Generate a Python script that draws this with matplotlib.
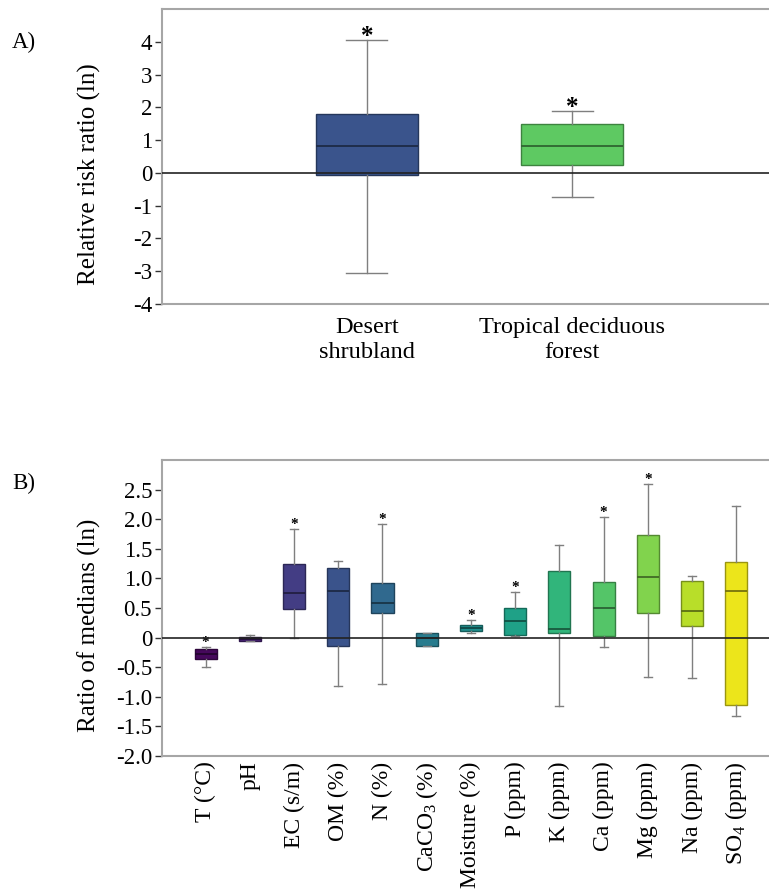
import numpy as np
import matplotlib
matplotlib.use('Agg')
import matplotlib.pyplot as plt
import matplotlib.colors as mcolors

plt.rcParams['font.family'] = ['Liberation Serif', 'DejaVu Serif']
plt.rcParams['mathtext.fontset'] = 'custom'
plt.rcParams['mathtext.rm'] = 'Liberation Serif'
plt.rcParams['mathtext.it'] = 'Liberation Serif:italic'

# Panel A: relative risk ratio (ln) per biome
biomes = ['Desert\nshrubland', 'Tropical deciduous\nforest']
a_whislo = [-3.05, -0.74]
a_q1 = [-0.07, 0.24]
a_med = [0.82, 0.82]
a_q3 = [1.80, 1.48]
a_whishi = [4.04, 1.88]
a_signif = [True, True]
a_yticks = [-4, -3, -2, -1, 0, 1, 2, 3, 4]

# Panel B: ratio of medians (ln) per soil variable
soil_vars = ['T (°C)', 'pH', 'EC (s/m)', 'OM (%)', 'N (%)', 'CaCO$_3$ (%)',
             'Moisture (%)', 'P (ppm)', 'K (ppm)', 'Ca (ppm)', 'Mg (ppm)',
             'Na (ppm)', 'SO$_4$ (ppm)']
b_whislo = [-0.50, -0.05, 0.00, -0.81, -0.78, -0.14, 0.08, 0.03, -1.16, -0.16, -0.67, -0.68, -1.32]
b_q1 = [-0.36, -0.05, 0.48, -0.14, 0.42, -0.14, 0.11, 0.05, 0.07, 0.03, 0.42, 0.19, -1.14]
b_med = [-0.27, -0.03, 0.76, 0.78, 0.59, 0.00, 0.16, 0.28, 0.15, 0.50, 1.03, 0.45, 0.79]
b_q3 = [-0.20, 0.01, 1.24, 1.17, 0.92, 0.08, 0.21, 0.50, 1.13, 0.94, 1.73, 0.96, 1.28]
b_whishi = [-0.16, 0.045, 1.83, 1.30, 1.91, 0.08, 0.29, 0.77, 1.56, 2.03, 2.59, 1.04, 2.22]
b_signif = [True, False, True, False, True, False, True, True, False, True, True, False, False]
b_yticks = [-2.0, -1.5, -1.0, -0.5, 0, 0.5, 1.0, 1.5, 2.0, 2.5]
b_yticklabels = ['-2.0', '-1.5', '-1.0', '-0.5', '0', '0.5', '1.0', '1.5', '2.0', '2.5']


def darker(c, f=0.65):
    r, g, b = mcolors.to_rgb(c)
    return (r * f, g * f, b * f)


def draw_boxes(ax, lo, q1, med, q3, hi, signif, colors, capw, starsize, staroff):
    stats = [dict(whislo=a, q1=b, med=c, q3=d, whishi=e, fliers=[])
             for a, b, c, d, e in zip(lo, q1, med, q3, hi)]
    pos = np.arange(1, len(stats) + 1)
    bp = ax.bxp(stats, positions=pos, widths=0.5, patch_artist=True,
                showfliers=False, capwidths=capw, manage_ticks=False)
    for patch, c in zip(bp['boxes'], colors):
        patch.set_facecolor(c)
        patch.set_edgecolor(darker(c))
        patch.set_linewidth(1.0)
    for line, c in zip(bp['medians'], colors):
        line.set_color(darker(c, 0.5))
        line.set_linewidth(1.3)
    for line in bp['whiskers'] + bp['caps']:
        line.set_color('#7f7f7f')
        line.set_linewidth(1.0)
    for x, top, s in zip(pos, hi, signif):
        if s:
            ax.annotate('*', (x, top), xytext=(0, staroff), textcoords='offset points',
                        ha='center', va='baseline', fontsize=starsize, fontweight='bold')
    ax.axhline(0, color='#222222', lw=1.2, zorder=5)


def style_axes(ax):
    for side in ['left', 'top', 'bottom']:
        ax.spines[side].set_color('#a6a6a6')
        ax.spines[side].set_linewidth(1.5)
    ax.spines['right'].set_visible(False)
    ax.tick_params(axis='y', length=5, width=1, color='#333333', labelsize=16.5, pad=2)
    ax.tick_params(axis='x', length=0)


fig = plt.figure(figsize=(7.69, 8.90), dpi=100)
cmap = plt.get_cmap('viridis')

# ---- Panel A ----
ax1 = fig.add_axes([0.2104, 0.6584, 0.7896, 0.3315])
draw_boxes(ax1, a_whislo, a_q1, a_med, a_q3, a_whishi, a_signif,
           [cmap(0.26), cmap(0.75)], 0.2, 18, -2)
ax1.set_xlim(0, 2.96)
ax1.set_ylim(-4, 5)
ax1.set_yticks(a_yticks)
ax1.set_yticklabels([str(t) for t in a_yticks])
ax1.set_xticks([1, 2])
ax1.set_xticklabels(biomes, fontsize=17.5, linespacing=1.25)
ax1.tick_params(axis='x', pad=9)
ax1.set_ylabel('Relative risk ratio (ln)', fontsize=18)
ax1.yaxis.set_label_coords(-0.1, 0.44)
style_axes(ax1)
fig.text(12 / 769, 1 - 42 / 890, 'A)', fontsize=16.5, va='center')

# ---- Panel B ----
ax2 = fig.add_axes([0.2104, 0.1506, 0.7896, 0.3326])
b_colors = [cmap(v) for v in np.linspace(0.02, 0.97, len(soil_vars))]
draw_boxes(ax2, b_whislo, b_q1, b_med, b_q3, b_whishi, b_signif,
           b_colors, 0.18, 11, 1)
ax2.set_xlim(0.01, 13.74)
ax2.set_ylim(-2.0, 3.0)
ax2.set_yticks(b_yticks)
ax2.set_yticklabels(b_yticklabels)
ax2.set_xticks(np.arange(1, len(soil_vars) + 1))
ax2.set_xticklabels(soil_vars, rotation=90, fontsize=17, va='top', ha='center')
ax2.tick_params(axis='x', pad=4)
ax2.set_ylabel('Ratio of medians (ln)', fontsize=18)
ax2.yaxis.set_label_coords(-0.1, 0.44)
style_axes(ax2)
fig.text(12 / 769, 1 - 483 / 890, 'B)', fontsize=16.5, va='center')

fig.savefig('out.png', dpi=100)
